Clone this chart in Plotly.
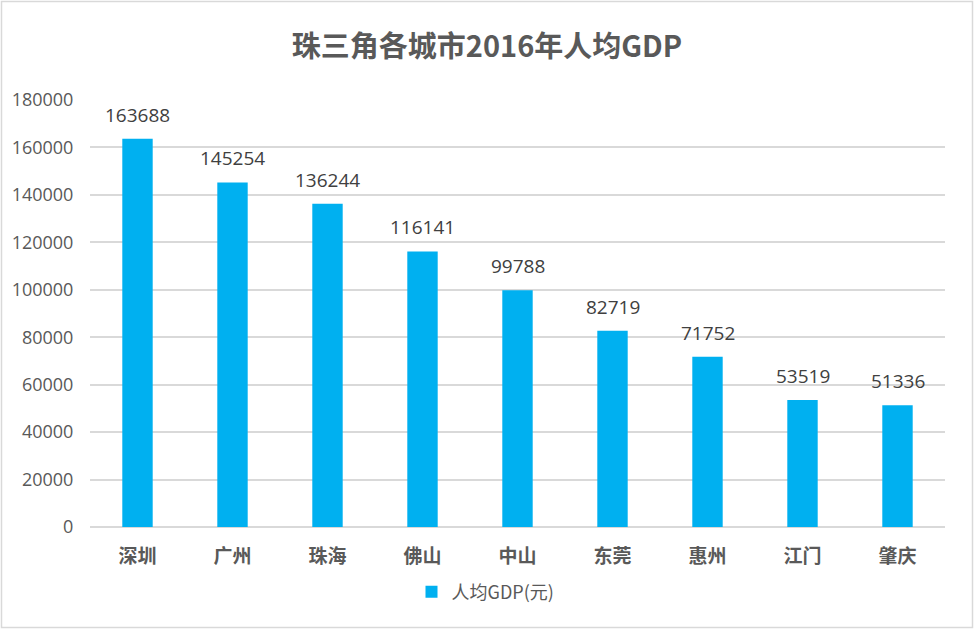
import plotly.graph_objects as go

cities = ["深圳", "广州", "珠海", "佛山", "中山", "东莞", "惠州", "江门", "肇庆"]
gdp_per_capita = [163688, 145254, 136244, 116141, 99788, 82719, 71752, 53519, 51336]
y_ticks = [0, 20000, 40000, 60000, 80000, 100000, 120000, 140000, 160000, 180000]

W, H = 974, 629
ml, mr, mt, mb = 90, 29, 100, 102
pw, ph = W - ml - mr, H - mt - mb

font_family = "Noto Sans CJK SC, Noto Sans, sans-serif"
num_family = "Open Sans, Noto Sans CJK SC, sans-serif"

fig = go.Figure()
fig.add_trace(go.Bar(
    x=cities, y=gdp_per_capita, name="人均GDP(元)",
    marker=dict(color="#00B0F0", line=dict(width=0)),
))

# data labels above bars
for c, v in zip(cities, gdp_per_capita):
    fig.add_annotation(x=c, y=v, text=str(v), showarrow=False,
                       yanchor="middle", yshift=24,
                       font=dict(size=19, color="#404040", family=num_family))

fig.update_layout(
    width=W, height=H,
    margin=dict(l=ml, r=mr, t=mt, b=mb),
    paper_bgcolor="white", plot_bgcolor="white",
    font=dict(family=font_family, color="#595959"),
    title=dict(text="<b>珠三角各城市2016年人均GDP</b>", x=0.5, xanchor="center",
               y=1 - 47 / H, yanchor="middle",
               font=dict(size=29, color="#595959", family=font_family)),
    bargap=0.68,
    showlegend=True,
    legend=dict(orientation="h", x=0.5 - 32 / pw, xanchor="center",
                y=-(592 - (H - mb)) / ph,
                yanchor="middle", font=dict(size=18, color="#595959"),
                itemwidth=30),
    xaxis=dict(showline=False, ticks="", tickfont=dict(size=19, color="#595959"),
               tickprefix="<b>", ticksuffix="</b>", ticklabelstandoff=16),
    yaxis=dict(range=[0, 180000], tickvals=y_ticks, ticktext=[str(v) for v in y_ticks],
               showgrid=True, gridcolor="#D9D9D9", gridwidth=1.5, zeroline=True,
               zerolinecolor="#D9D9D9", zerolinewidth=1.5,
               tickfont=dict(size=18, color="#595959", family=num_family),
               ticklen=12, ticks="outside", tickcolor="white"),
)

# outer border of chart area
fig.add_shape(type="rect", xref="paper", yref="paper",
              x0=-(ml - 1.5) / pw, x1=1 + (mr - 1.5) / pw,
              y0=-(mb - 1.5) / ph, y1=1 + (mt - 1.5) / ph,
              line=dict(color="#D9D9D9", width=1.5), layer="below")

fig.write_html("out.html", config={"displayModeBar": False},
               post_script="document.body.style.margin='0';document.body.style.padding='0';")
